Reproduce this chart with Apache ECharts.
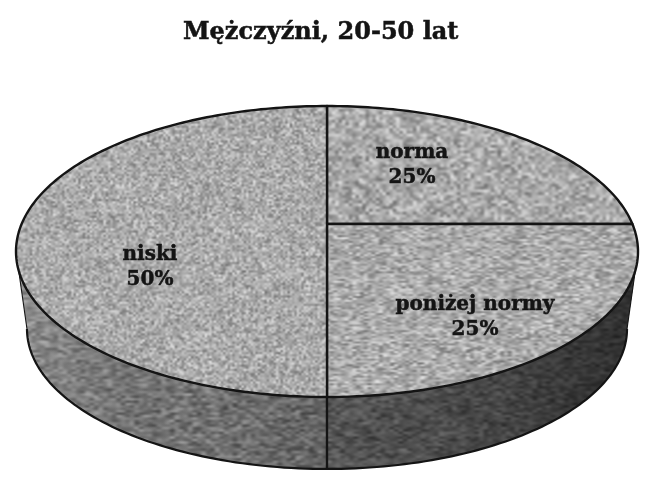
<!DOCTYPE html>
<html>
<head>
<meta charset="utf-8">
<style>html,body{margin:0;padding:0;background:#fff}#c{width:667px;height:482px}</style>
<script src="https://cdn.jsdelivr.net/npm/echarts@6/dist/echarts.min.js"></script>
</head>
<body>
<div id="c"></div>
<script>
const titleText = 'Mężczyźni, 20-50 lat';
const categories = ['norma', 'poniżej normy', 'niski'];
const values = [25, 25, 50];

// Label centres for each slice (separate from the data)
const labelAnchors = [[412, 165], [475, 317], [150, 267]];
// Perspective disc geometry: top face and bottom face of the cylinder
const P = 0.189;
const TOP = { cx: 327, ay: 224, q: 305.4, k: 140.3 };
const BOT = { cx: 327, ay: 302.5, q: 294.6, k: 135 };
const FRONT_FROM = Math.acos(-P), FRONT_TO = 2 * Math.PI - Math.acos(-P);

function project(f, th, r) {
  r = r === undefined ? 1 : r;
  const a = Math.sin(th) * r, b = -Math.cos(th) * r, d = 1 - P * b;
  return [f.cx + f.q * a / d, f.ay + f.k * b / d];
}
function arc(f, t0, t1) {
  const n = Math.max(2, Math.ceil(Math.abs(t1 - t0) / 0.02)), pts = [];
  for (let i = 0; i <= n; i++) pts.push(project(f, t0 + (t1 - t0) * i / n));
  return pts;
}
// Deterministic texture generator for the stone-like fill
function noise(cellW, cellH, mean, amp, seed) {
  const W = 667, H = 482, lo = document.createElement('canvas');
  const w = Math.ceil(W / cellW), h = Math.ceil(H / cellH);
  lo.width = w; lo.height = h;
  const g = lo.getContext('2d'), id = g.createImageData(w, h);
  let s = seed >>> 0;
  const rnd = () => { s = (Math.imul(s, 1664525) + 1013904223) >>> 0; return (s >>> 8) / 16777216; };
  for (let i = 0; i < w * h; i++) {
    const v = mean + (rnd() + rnd() - 1) * amp;
    id.data[i * 4] = id.data[i * 4 + 1] = id.data[i * 4 + 2] = v;
    id.data[i * 4 + 3] = 255;
  }
  g.putImageData(id, 0, 0);
  const c = document.createElement('canvas');
  c.width = W; c.height = H;
  const x = c.getContext('2d');
  x.imageSmoothingEnabled = true;
  x.imageSmoothingQuality = 'high';
  x.drawImage(lo, 0, 0, W, H);
  return c;
}
const topFills = [
  noise(3.4, 2.8, 168, 58, 11),
  noise(3.8, 1.9, 170, 58, 23),
  noise(2.3, 2.1, 170, 55, 37)
];
const sideFill = noise(4.5, 2.4, 118, 48, 51);

const LINE = '#141414';
const total = values.reduce((a, b) => a + b, 0);

function renderSlice(params, api) {
  const idx = params.dataIndex;
  let before = 0;
  for (let i = 0; i < idx; i++) before += values[i];
  const val = api.value(0);
  const t0 = before / total * 2 * Math.PI, t1 = (before + val) / total * 2 * Math.PI;
  const children = [];

  // Side wall (front-facing part only)
  const s0 = Math.max(t0, FRONT_FROM), s1 = Math.min(t1, FRONT_TO);
  if (s1 > s0) {
    const poly = arc(TOP, s0, s1).concat(arc(BOT, s1, s0));
    children.push({ type: 'polygon', shape: { points: poly }, style: { fill: { image: sideFill, repeat: 'repeat' } }, z2: 1 });
    children.push({
      type: 'polygon', shape: { points: poly },
      style: {
        fill: {
          type: 'linear', x: 16, y: 0, x2: 638, y2: 0, global: true,
          colorStops: [
            { offset: 0, color: 'rgba(255,255,255,0.18)' },
            { offset: 0.3, color: 'rgba(0,0,0,0.02)' },
            { offset: 0.49, color: 'rgba(0,0,0,0.16)' },
            { offset: 0.51, color: 'rgba(0,0,0,0.28)' },
            { offset: 0.78, color: 'rgba(0,0,0,0.42)' },
            { offset: 1, color: 'rgba(0,0,0,0.62)' }
          ]
        }
      }, z2: 2
    });
    children.push({ type: 'polyline', shape: { points: arc(BOT, s0, s1) }, style: { fill: 'none', stroke: LINE, lineWidth: 2.2 }, z2: 3 });
    [t0, t1].forEach(t => {
      if (t >= FRONT_FROM && t <= FRONT_TO) {
        children.push({ type: 'polyline', shape: { points: [project(TOP, t), project(BOT, t)] }, style: { fill: 'none', stroke: LINE, lineWidth: 2.2 }, z2: 3 });
      }
    });
    // Thin silhouette edges where the wall turns away
    [FRONT_FROM, FRONT_TO].forEach(t => {
      if (t >= s0 && t <= s1) {
        children.push({ type: 'polyline', shape: { points: [project(TOP, t), project(BOT, t)] }, style: { fill: 'none', stroke: LINE, lineWidth: 1.1 }, z2: 3 });
      }
    });
  }
  // Top face
  const face = [project(TOP, 0, 0)].concat(arc(TOP, t0, t1));
  children.push({
    type: 'polygon', shape: { points: face },
    style: { fill: { image: topFills[idx], repeat: 'repeat' }, stroke: LINE, lineWidth: 2.4, lineJoin: 'round' }, z2: 10
  });
  // Label
  const pct = Math.round(val / total * 100) + '%';
  children.push({
    type: 'text', z2: 20,
    style: {
      x: labelAnchors[idx][0], y: labelAnchors[idx][1],
      text: categories[idx] + '\n' + pct,
      align: 'center', verticalAlign: 'middle',
      font: 'bold 20px "DejaVu Serif"', lineHeight: 25, fill: '#141414',
      stroke: '#141414', lineWidth: 0.5
    }
  });
  return { type: 'group', children };
}

const chart = echarts.init(document.getElementById('c'), null, { renderer: 'canvas', width: 667, height: 482 });
chart.setOption({
  animation: false,
  backgroundColor: '#fff',
  title: {
    text: titleText, left: 178, top: 16,
    textStyle: {
      fontFamily: 'DejaVu Serif', fontWeight: 'bold', fontSize: 24, color: '#141414',
      textBorderColor: '#141414', textBorderWidth: 0.5
    }
  },
  series: [{
    type: 'custom',
    coordinateSystem: 'none',
    clip: false,
    silent: true,
    renderItem: renderSlice,
    data: values.map((v, i) => ({ name: categories[i], value: [v] }))
  }]
});
</script>
</body>
</html>
